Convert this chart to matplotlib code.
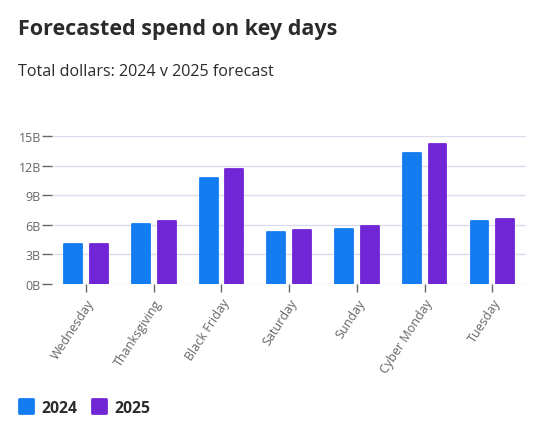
import numpy as np
import matplotlib
matplotlib.use("Agg")
import matplotlib.pyplot as plt
from matplotlib.lines import Line2D
from matplotlib.markers import MarkerStyle

days = ["Wednesday", "Thanksgiving", "Black Friday", "Saturday", "Sunday", "Cyber Monday", "Tuesday"]
spend_2024 = [4.05, 6.08, 10.77, 5.27, 5.6, 13.3, 6.38]
spend_2025 = [4.05, 6.38, 11.68, 5.5, 5.88, 14.2, 6.58]
yticks = [0, 3, 6, 9, 12, 15]
series = ["2024", "2025"]

blue = "#137CF0"
purple = "#7126D6"
grey = "#666666"

plt.rcParams["font.family"] = ["Open Sans", "DejaVu Sans"]

fig = plt.figure(figsize=(5.37, 4.35), dpi=100)
ax = fig.add_axes([0.097, 0.345, 0.883, 0.34])

x = np.arange(len(days))
w = 0.265
off = 0.19
for vals, col, d in [(spend_2024, blue, -off), (spend_2025, purple, off)]:
    ax.bar(x + d, vals, width=w, color=col, edgecolor=col, linewidth=1.3,
           joinstyle="round", zorder=3)

ax.set_xlim(-0.5, len(days) - 0.5)
ax.set_ylim(0, 15)
ax.set_yticks(yticks)
ax.set_yticklabels([f"{t}B" for t in yticks])
ax.set_xticks(x)
ax.set_xticklabels(days, rotation=57, ha="right", rotation_mode="anchor")
ax.grid(axis="y", color="#DCDCEC", linewidth=1, zorder=0)
for s in ax.spines.values():
    s.set_visible(False)
ax.tick_params(axis="y", length=7, width=1, color=grey, labelcolor=grey, labelsize=9, pad=1)
ax.tick_params(axis="x", length=6, width=1, color=grey, labelcolor=grey, labelsize=9, pad=3)

fig.text(0.034, 0.92, "Forecasted spend on key days", fontsize=15.5, fontweight="bold", color="#2B2B2B")
fig.text(0.034, 0.826, "Total dollars: 2024 v 2025 forecast", fontsize=11.6, color="#2B2B2B")

handles = [Line2D([], [], linestyle="none",
                  marker=MarkerStyle("s", joinstyle="round"), markersize=10.5,
                  markerfacecolor=c, markeredgecolor=c, markeredgewidth=2)
           for c in (blue, purple)]
leg = fig.legend(handles, series, loc="center left", bbox_to_anchor=(0.008, 0.06),
                 frameon=False, ncol=2, handlelength=1, handletextpad=0.45,
                 columnspacing=0.9, prop={"weight": "bold", "size": 11.3})
for t in leg.get_texts():
    t.set_color("#2B2B2B")

fig.savefig("out.png", dpi=100)
